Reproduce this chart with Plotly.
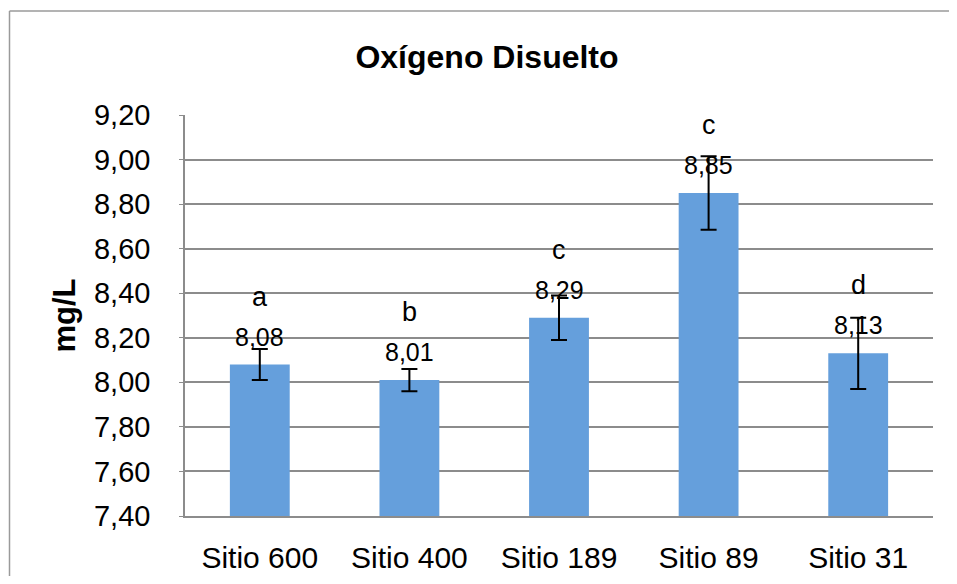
import plotly.graph_objects as go

categories = ["Sitio 600", "Sitio 400", "Sitio 189", "Sitio 89", "Sitio 31"]
values = [8.08, 8.01, 8.29, 8.85, 8.13]
errors = [0.07, 0.05, 0.10, 0.165, 0.16]
letters = ["a", "b", "c", "c", "d"]
y_ticks = [7.40, 7.60, 7.80, 8.00, 8.20, 8.40, 8.60, 8.80, 9.00, 9.20]

FONT = "Liberation Sans, Arial, sans-serif"
GRID = "#8c8c8c"

fig = go.Figure()
fig.add_trace(go.Bar(
    x=categories, y=values, width=0.4,
    marker=dict(color="#659fdc", line=dict(width=0)),
    error_y=dict(type="data", array=errors, color="black", thickness=2, width=8),
    hoverinfo="skip",
))

for c, v in zip(categories, values):
    fig.add_annotation(x=c, y=v, text=f"{v:.2f}".replace(".", ","), showarrow=False,
                       yshift=28, yanchor="middle", font=dict(size=25, color="black", family=FONT))
for c, v, l in zip(categories, values, letters):
    fig.add_annotation(x=c, y=v, text=l, showarrow=False,
                       yshift=68, yanchor="middle", font=dict(size=27, color="black", family=FONT))

# outer chart frame (cropped on right and bottom): only left and top edges visible
fx0 = (1.5 - 177) / 748
fx1 = (941 - 177) / 748
fy0 = (508 - 568) / 401
fy1 = (508 - 3) / 401
fig.add_shape(type="line", xref="paper", yref="paper", x0=fx0, x1=fx0, y0=fy0, y1=fy1,
              line=dict(color="#9a9a9a", width=1.5), layer="below")
fig.add_shape(type="line", xref="paper", yref="paper", x0=fx0, x1=fx1, y0=fy1, y1=fy1,
              line=dict(color="#9a9a9a", width=1.5), layer="below")

fig.update_layout(
    width=941, height=568,
    margin=dict(l=177, r=16, t=107, b=60, autoexpand=False),
    paper_bgcolor="white", plot_bgcolor="white",
    separators=",.",
    showlegend=False,
    font=dict(family=FONT, color="black"),
    title=dict(text="<b>Oxígeno Disuelto</b>", x=479 / 941, xanchor="center",
               y=1 - 49 / 568, yanchor="middle", yref="container",
               font=dict(size=32, family=FONT, color="black")),
    xaxis=dict(showgrid=False, showline=True, linecolor=GRID, linewidth=1.5,
               automargin=False,
               ticks="outside", ticklen=14, tickcolor="rgba(0,0,0,0)",
               tickfont=dict(size=30, family=FONT, color="black")),
    yaxis=dict(range=[7.4, 9.2], tickvals=y_ticks, tickformat=".2f",
               showgrid=True, gridcolor=GRID, gridwidth=1.5,
               showline=True, linecolor=GRID, linewidth=1.5,
               automargin=False,
               ticks="outside", ticklen=4, tickcolor=GRID, ticklabelstandoff=23,
               tickfont=dict(size=29, family=FONT, color="black"),
               zeroline=False,
               title=dict(text="<b>mg/L</b>", standoff=9,
                          font=dict(size=31, family=FONT, color="black"))),
)

fig.write_html("out.html")
